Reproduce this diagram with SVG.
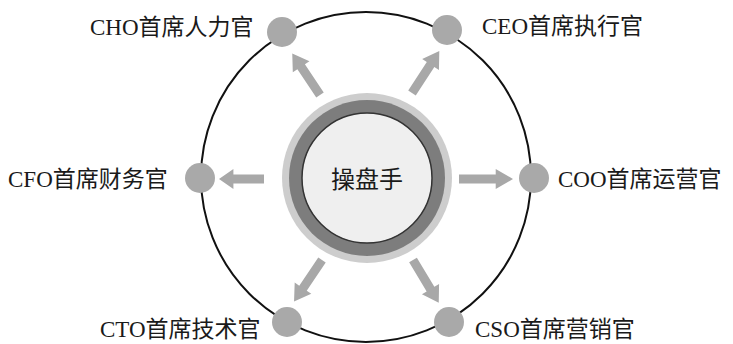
<svg xmlns="http://www.w3.org/2000/svg" xmlns:xlink="http://www.w3.org/1999/xlink" width="733" height="344" viewBox="0 0 733 344">
  <style>
    .lbl { font-family: "Liberation Serif", "Noto Sans CJK SC", serif; font-size: 23px; fill: #1a1a1a; }
    .dot { fill: #a9a9a9; }
    .arr { fill: #a8a8a8; }
    .ring { fill: none; stroke: #111; stroke-width: 2; }
  </style>
  <defs>
    <path id="arrow" d="M0,-4.5 L34,-4.5 L34,-10 L50,0 L34,10 L34,4.5 L0,4.5 Z"/>
  </defs>
  <rect width="733" height="344" fill="#ffffff"/>
  <g id="orbit">
    <circle class="ring" cx="366" cy="177" r="165"/>
  </g>
  <g id="connectors" class="arr">
    <use xlink:href="#arrow" transform="translate(320,95) rotate(-123.7)"/>
    <use xlink:href="#arrow" transform="translate(412,93) rotate(-56.9)"/>
    <use xlink:href="#arrow" transform="translate(264,179) rotate(180) scale(0.9,1)"/>
    <use xlink:href="#arrow" transform="translate(459,179) scale(1.08,1)"/>
    <use xlink:href="#arrow" transform="translate(322,260) rotate(124)"/>
    <use xlink:href="#arrow" transform="translate(413,260) rotate(59)"/>
  </g>
  <g id="center">
    <circle cx="367" cy="178" r="85" fill="#cdcdcd"/>
    <circle cx="367" cy="178" r="78" fill="#7d7d7d"/>
    <circle cx="367" cy="178" r="65" fill="#efefef" stroke="#333" stroke-width="1.5"/>
    <text x="367" y="188" text-anchor="middle" font-family="'Noto Sans CJK SC', sans-serif" font-size="24" fill="#1a1a1a">操盘手</text>
  </g>
  <g id="cho">
    <circle class="dot" cx="282" cy="32" r="15"/>
    <text class="lbl" x="90" y="35">CHO首席人力官</text>
  </g>
  <g id="ceo">
    <circle class="dot" cx="447" cy="30" r="15"/>
    <text class="lbl" x="482" y="34">CEO首席执行官</text>
  </g>
  <g id="cfo">
    <circle class="dot" cx="200" cy="178" r="15"/>
    <text class="lbl" x="8" y="187">CFO首席财务官</text>
  </g>
  <g id="coo">
    <circle class="dot" cx="534" cy="178" r="15"/>
    <text class="lbl" x="558" y="187">COO首席运营官</text>
  </g>
  <g id="cto">
    <circle class="dot" cx="287" cy="322" r="15"/>
    <text class="lbl" x="100" y="337">CTO首席技术官</text>
  </g>
  <g id="cso">
    <circle class="dot" cx="449" cy="322" r="15"/>
    <text class="lbl" x="475" y="337">CSO首席营销官</text>
  </g>
</svg>
